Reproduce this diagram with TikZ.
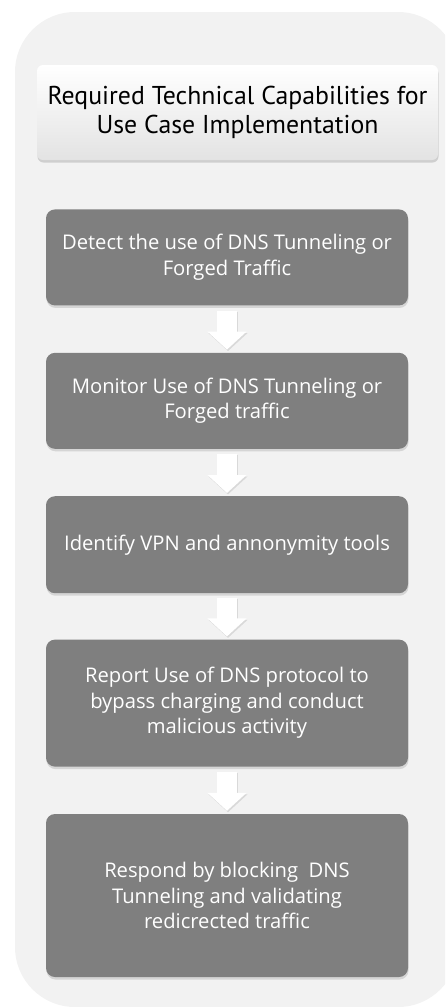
\documentclass[tikz,border=0pt]{standalone}
\usepackage{fontspec}
\setmainfont{Open Sans}
\newfontfamily\titlefont{PT Sans}
\usetikzlibrary{positioning,shadows,arrows.meta}
\definecolor{bggray}{RGB}{242,242,242}
\definecolor{boxgray}{RGB}{127,127,127}
\tikzset{
  headbox/.style  = {shape=rectangle, rounded corners=6pt, align=center,
                     top color=white, middle color=white, bottom color=black!11,
                     minimum width=401pt, minimum height=95pt,
                     font=\titlefont\fontsize{25.8}{28.5}\selectfont,
                     drop shadow={shadow xshift=0.5pt, shadow yshift=-2.5pt, opacity=0.3}},
  capbox/.style   = {shape=rectangle, rounded corners=9pt, align=center,
                     fill=boxgray, text=white, minimum width=362pt,
                     font=\fontsize{20.2}{25.5}\selectfont,
                     drop shadow={shadow xshift=0.5pt, shadow yshift=-2.5pt, opacity=0.25}},
  downarrow/.style = {draw=white, line width=20pt,
                     -{Triangle[width=38pt, length=18pt]}},
  arrowshade/.style = {draw=black, opacity=0.1, line width=20pt,
                     -{Triangle[width=38pt, length=18pt]}}
}

\begin{document}
\begin{tikzpicture}[x=1pt, y=-1pt, node distance=47pt]
  \useasboundingbox (0,0) rectangle (445,1007);
  % grey panel behind the flow
  \begin{scope}
    \clip (0,0) rectangle (445,1007);
    \fill[bggray, rounded corners=60pt] (15,12) rectangle (458,1007);
  \end{scope}

  \node [headbox] (title) at (237.5,112.5)
    {Required Technical Capabilities for\\Use Case Implementation};

  \node [capbox, minimum height=96pt, below=49pt of title, xshift=-10.5pt] (detect)
    {Detect the use of DNS Tunneling or\\Forged Traffic};
  \node [capbox, minimum height=96pt, below=of detect] (monitor)
    {Monitor Use of DNS Tunneling or\\Forged traffic};
  \node [capbox, minimum height=97pt, below=of monitor] (identify)
    {Identify VPN and annonymity tools};
  \node [capbox, minimum height=127pt, below=46pt of identify] (report)
    {Report Use of DNS protocol to\\bypass charging and conduct\\malicious activity};
  \node [capbox, minimum height=163pt, below=of report] (respond)
    {Respond by blocking\ \ DNS\\Tunneling and validating\\redicrected traffic};

  % block arrows between the steps
  \foreach \a/\b in {detect/monitor, monitor/identify, identify/report, report/respond}{
    \draw[arrowshade] ([xshift=1pt, yshift=-6pt]\a.south) -- ([xshift=1pt, yshift=1.5pt]\b.north);
    \draw[downarrow] ([yshift=-5pt]\a.south) -- ([yshift=3pt]\b.north);
  }
\end{tikzpicture}
\end{document}
